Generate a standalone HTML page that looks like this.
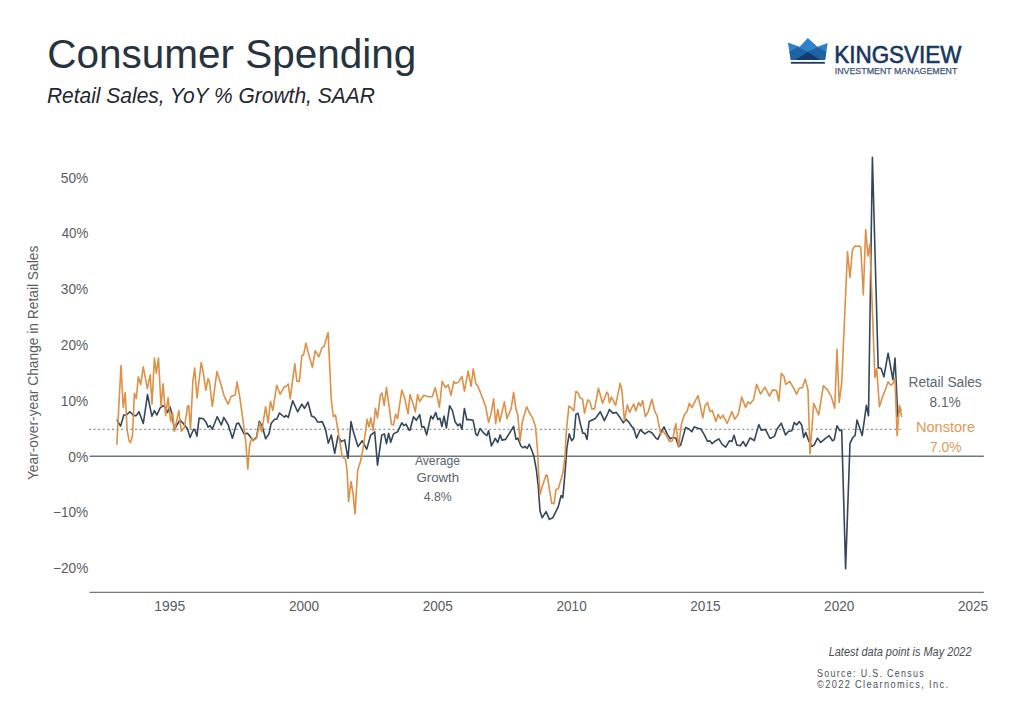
<!DOCTYPE html>
<html><head><meta charset="utf-8">
<style>
html,body{margin:0;padding:0;background:#fff;width:1024px;height:721px;overflow:hidden}
svg{display:block}
text{font-family:"Liberation Sans",sans-serif}
</style></head>
<body>
<svg width="1024" height="721" viewBox="0 0 1024 721">
<rect width="1024" height="721" fill="#fff"/>
<line x1="89.5" y1="592.3" x2="983.8" y2="592.3" stroke="#75797c" stroke-width="1.3"/>
<line x1="89.5" y1="456.3" x2="983.8" y2="456.3" stroke="#6f797b" stroke-width="1.5"/>
<line x1="89" y1="429.4" x2="902" y2="429.4" stroke="#8f959a" stroke-width="1.3" stroke-dasharray="2,2.6"/>
<polyline fill="none" stroke="#34475a" stroke-width="1.6" stroke-linejoin="round" points="116.8,419.6 120.6,426.1 123.8,415 126.5,415 129.8,411.7 133.7,415.6 136.3,415.6 139,411.7 143.3,423.5 147.5,394.5 151.9,416.3 154.4,410.6 156.9,415 160,408.1 163.1,405.6 165.6,407.5 167.5,412.5 170,406.9 171.9,413.8 174.4,430 176.9,425 180,420 182.5,422.5 187.5,428.8 188,430.6 190.1,437.5 193.6,429.2 194.9,429.9 197,436.1 199.1,418.1 203.3,418.8 206.1,422.2 208.1,427.1 210.2,425.7 212.3,429.2 217.2,416.7 221.3,425 223.8,417.4 228.3,425 232.4,438.2 236.6,423.6 237.9,423.5 238.5,422.8 241.3,428.3 244,433.9 247.5,433.2 250.3,436.7 253.1,440.1 256.5,437.4 259.3,421.4 262.1,425.6 265.6,438.8 269,433.9 271.1,423.5 274.6,419.3 276.7,419.3 279.4,413.1 283.6,416.5 284.7,417.1 285.8,415.3 288.3,417.4 292.7,400.7 297.6,411.8 301.8,404.2 304.5,408.3 308,402.1 311.5,416 314.7,417.4 317.7,422.2 322.2,421.6 325.5,429.1 328.3,443.3 331.3,435 334.7,453.3 338,435.8 341.3,441.6 344.7,439.9 348,458.3 351,421.6 353.8,433.3 358,446.6 362.2,440.8 366.3,448.3 366.7,449.2 370.6,435.3 374.7,431.8 377.5,465.1 381.7,435.3 384.4,433.9 386.5,443.6 388.6,433.2 390.7,442.2 393.5,433.9 397.6,431.8 401.8,422.8 403.9,425.6 406,424.2 409.2,430.4 410,430 413.5,416.8 416.3,420.3 419.7,414.7 421.8,427.2 423.9,426.5 426.7,434.9 430.8,416.1 432.9,418.9 435.7,412.6 437.8,419.6 439.9,418.2 441.9,426.5 444,416.1 446.4,427.9 449.6,405.7 452.4,410.6 455.1,421.7 457.9,425.8 458.7,424.9 459.9,423.8 461.9,429.3 464.4,408.5 466.8,419.6 469.6,419.6 473.1,420.3 475.8,434.2 477.5,435.6 480,428.6 483.5,432.8 486.9,435.6 488.6,430.7 491.4,446 495.3,438.3 497.8,442.5 500.1,434.9 502.1,440.1 505.6,439.4 509,433.9 513.6,426.3 516,439.4 517.8,438.1 520.8,445.7 522.9,447.8 525,446.4 527.1,448.5 529.2,444.3 531.9,450.6 534,456.8 536.4,470 538.3,486.6 540,511 542.2,517.7 546.1,511.6 549.4,519.4 552.8,517.7 555.6,512.1 558.3,506.6 561.1,495.5 562.8,497.7 565,473.3 566.9,447.8 569.2,433.9 571.7,440.8 573.8,438.1 575.9,414.4 578,413.1 580.8,425.6 582.8,433.2 584.9,433.2 587,439.4 589.1,421.4 595.3,418.6 600.2,411.7 604.4,420.7 608,413 609.4,409.6 612.9,413.1 616.3,412.4 619.8,417.2 623.3,422.8 626.1,419.3 628.8,422.1 631.6,426.3 633.7,428.3 636.5,438.1 640.2,429.7 644.8,433.9 649,431.1 652.4,433.2 655.9,438.1 657.8,439.4 661.3,431.8 664,426.9 667.5,434.6 670.3,438.8 673.1,437.4 675.8,438.1 678.6,446.4 680.7,445 685.6,427.6 689,429 691.8,431.8 694.2,426.9 698.1,428.3 700.8,429 702.1,431.1 704.2,434.6 707.6,441.5 709.7,440.8 712.2,443.6 714.6,441.5 718.8,438.8 722.2,444.3 725.7,447.1 729.4,440.8 731.9,441.5 734,435.3 736.8,445 740.3,445.7 743.1,441.5 745.8,446.4 750,438.1 750.5,438 751.1,438.5 754.3,440.6 758.8,424.6 761.2,430.1 765.4,429.4 770,438.5 774.4,436.4 777.2,428.8 781.3,423.2 785.5,435 788.3,431.5 791.8,430.8 794.3,422.5 796.7,424.9 799.2,421.6 801.7,424.9 803.7,437.4 805.8,432.4 808.7,440.7 811.7,446.5 814.2,444.9 817.5,438.2 820.8,442.4 825.8,438.2 829.2,435.7 832.5,440.7 834.2,439.9 837,425.7 839.7,430.7 841.7,429.9 845.6,568.7 850,443.3 852.9,437.3 855.1,435.5 857,420 862.2,435.5 866.4,405.4 868.5,415.8 872.4,157.3 878.2,368 879,367.8 881.1,368.5 883.9,376.8 888.1,353.2 892.9,379.6 895,358.1 897.8,416.4 899.9,408.1 900.9,411"/>
<polyline fill="none" stroke="#de9047" stroke-width="1.6" stroke-linejoin="round" points="116.8,444.6 121,365.5 123.2,407.7 125.2,392.5 127.1,430.1 129.1,440.6 130.4,442.6 132.4,436.7 134.4,393.2 136.3,398.5 138.3,376.7 140.7,384.6 143.3,366.9 147.3,388.6 150.2,374.8 152,404 154.4,358.1 156.3,373.1 158.5,358.1 161,406.3 163.1,383.8 165.6,415.6 168.1,397.5 170.6,421.3 172.5,412.5 174.4,431.3 178.8,410.6 181.3,431.3 184.4,427.5 187.5,406.3 188.7,405.6 190.5,429.2 192.9,380.6 194.7,368.1 197,397.9 201.2,362.5 203.3,372.9 205.8,390.3 208.1,378.5 209.5,381.9 212.3,406.3 216.9,371.5 220.6,383.3 224.1,395.8 228,404.2 231.1,396.5 235.2,395.1 237.1,381.8 239.9,397.8 243.3,422.8 245.8,442.2 247.8,469.3 249.6,445 251.7,438.1 253.1,440.8 256.5,438.1 259.7,422.8 261.7,431.8 265.6,406.8 268.1,422.8 270.4,401.3 272.8,410.3 276.7,385.3 280.1,394.3 284.3,386.7 284.7,386.6 285.8,386.8 288.3,384 290.2,398.6 294.8,363.9 296.9,381.3 299.4,381.3 301.8,355.6 303.6,354.9 305.9,343.1 308.7,354.2 312.4,367.4 315.2,350.7 318.8,356.9 321.9,347.9 324,346.5 328.1,332.6 331.3,400 333.3,416.6 335.5,415 338.8,435.8 342.2,456.6 345.5,459.1 347.2,471.6 348.5,501.5 351,481.6 353,493.2 355,514 357.7,469.9 360.5,461.6 363.8,444.1 367.1,419.3 368.9,426.9 370.8,417.9 373.1,430.4 375.4,408.2 377.5,417.9 380.3,395.7 381.9,392.9 384.2,405.4 386.5,387.4 388.6,402.6 391.4,424.2 393.5,424.9 395.6,414.4 397.6,418.6 401.8,390.1 404.6,397.8 408.1,413.8 410,394.6 412.8,402.9 415.3,411.9 417.6,394.6 419.7,401.5 423.9,395.3 428.1,396.7 432.2,396.7 435.3,387.6 439.4,407.1 442.2,381.4 445.4,387.6 448.2,384.9 451,395.3 453.8,381.4 455.5,383.5 458.5,382.1 461.9,376.5 464.4,391.1 468.2,371 471,386.3 473.3,368.9 475.8,383.5 477.9,386.3 482.1,396.7 485.6,406.4 488.6,422.4 491.1,413.3 493.6,398.8 495.6,423.8 497.8,409.2 499.7,421.7 504.4,401.9 506.9,418.6 511.1,408.9 513.6,392.2 516,409.6 517.8,415.1 520.1,440.8 522.2,422.1 526.7,406.8 529.9,413.8 532.6,417.9 535.4,426.3 537.5,449.2 538.3,467.8 540,494.4 542.2,486.6 546.1,475 547.2,475.5 551.7,503.3 553.9,503.8 556.1,489.4 558.3,488.8 562.8,473.3 565,456.6 566.2,432.5 568.9,406.1 571,407.5 573.8,411 575.9,391.5 578,392.9 580.1,397.8 582.6,399.2 584.5,413.1 587.7,399.9 589.8,401.3 591.9,408.9 594.6,408.9 598.4,388.1 602.6,403.3 606.7,392.2 608,393.6 609.4,402.6 611.5,397.1 615.6,405.4 620.2,383.2 621.9,390.1 624.4,420.7 627.4,404.7 629.5,412.4 633.7,404 635.8,411 638.6,402.6 640.6,406.1 642.7,400.6 645.2,416.5 648.3,411.7 651.8,399.2 654.9,411.7 657.1,415.8 660.6,433.9 663.3,431.1 666.1,435.3 669.6,441.5 672.4,440.8 675.8,423.5 678.6,447.1 681.4,424.2 684.2,415.1 686.9,411.7 689.4,403.3 691.8,407.5 698.1,395.7 702.8,417.9 704.9,406.1 707.6,402.6 710,411.7 712.2,410.3 716,421.4 718.1,414.4 720.6,418.6 722.9,415.1 727.1,423.5 731.9,411.7 734.7,419.3 738.2,414.4 741.7,397.1 745.6,407.5 747.9,401.9 750.1,403.8 753.6,399.6 756.6,384.3 760.5,394 764.9,387.1 769.5,396.1 772.7,389.9 776.5,390.6 778.8,401 781.3,373.2 783.8,376 785.8,384.3 789.7,381.5 793.1,387.1 796.7,394.1 799.2,388.3 802.5,387.4 805.3,379.1 808,389.9 810,454 813.7,403.2 818.7,414.9 823.3,385.8 827.5,389.9 831.3,396.6 834.7,408.2 837,349.2 839.2,402.4 841.7,383.3 847.5,251.6 850,277.4 852.4,250 854.9,245.8 857.4,246.6 859.1,245.8 860.8,247.4 863.3,294.9 865.7,229.6 867.9,256 869.9,244.5 874.9,377.5 876.7,368.5 879.4,406.7 882.5,396.9 885.3,390 888.1,381.7 890.6,385.1 892.9,383.8 895,378.2 897.1,435.8 899.4,405.3 901.7,417.1"/>
<g id="logo">
<polygon points="787.9,42.6 799.6,46.7 807.8,37.9 817.5,46.7 827.7,42.9 825.1,59.9 790.8,59.9" fill="#2f82c9"/>
<polygon points="789.4,51.7 797.6,47 807.8,51.7 818.1,47 826.3,51.7 825.1,59.9 790.8,59.9" fill="#1f63a3"/>
<polygon points="795.2,59.9 807.8,52 820.4,59.9" fill="#153b6b"/>
<rect x="790.8" y="61.9" width="34" height="1.8" fill="#1d3a63"/>
</g>
<text id="title" x="47.20" y="67.70" font-size="41.5" fill="#27333e" textLength="369.20" lengthAdjust="spacingAndGlyphs">Consumer Spending</text>
<text id="sub" x="46.90" y="103.40" font-size="22" fill="#1f2830" font-style="italic" textLength="328.00" lengthAdjust="spacingAndGlyphs">Retail Sales, YoY % Growth, SAAR</text>
<text id="kv" x="834.20" y="62.70" font-size="23.4" fill="#15375f" stroke="#15375f" stroke-width="0.6" textLength="127.30" lengthAdjust="spacingAndGlyphs">KINGSVIEW</text>
<text id="im" x="834.70" y="73.50" font-size="9.9" fill="#3b5479" stroke="#3b5479" stroke-width="0.25" textLength="122.70" lengthAdjust="spacingAndGlyphs">INVESTMENT MANAGEMENT</text>
<text id="avg1" x="414.90" y="464.90" font-size="12.2" fill="#596571" textLength="45.10" lengthAdjust="spacingAndGlyphs">Average</text>
<text id="avg2" x="416.40" y="482.40" font-size="12.2" fill="#596571" textLength="42.80" lengthAdjust="spacingAndGlyphs">Growth</text>
<text id="avg3" x="423.70" y="500.80" font-size="12.2" fill="#596571" textLength="27.90" lengthAdjust="spacingAndGlyphs">4.8%</text>
<text id="rs1" x="908.50" y="387.10" font-size="14" fill="#5b6772" textLength="73.20" lengthAdjust="spacingAndGlyphs">Retail Sales</text>
<text id="rs2" x="929.50" y="407.30" font-size="14" fill="#5b6772" textLength="31.10" lengthAdjust="spacingAndGlyphs">8.1%</text>
<text id="ns1" x="915.90" y="432.10" font-size="14" fill="#e19a55" textLength="59.20" lengthAdjust="spacingAndGlyphs">Nonstore</text>
<text id="ns2" x="930.00" y="451.90" font-size="14" fill="#e19a55" textLength="31.40" lengthAdjust="spacingAndGlyphs">7.0%</text>
<text id="latest" x="828.70" y="655.80" font-size="12" fill="#474d53" font-style="italic" textLength="142.80" lengthAdjust="spacingAndGlyphs">Latest data point is May 2022</text>
<text id="src" x="817.10" y="676.90" font-size="10.8" fill="#4b5157" letter-spacing="1.6" textLength="107.90" lengthAdjust="spacingAndGlyphs">Source: U.S. Census</text>
<text id="copy" x="817.10" y="688.10" font-size="10.8" fill="#4b5157" letter-spacing="1.6" textLength="132.30" lengthAdjust="spacingAndGlyphs">©2022 Clearnomics, Inc.</text>
<text id="y0" x="60.85" y="182.70" font-size="14" fill="#585d62" textLength="27.40" lengthAdjust="spacingAndGlyphs">50%</text>
<text id="y1" x="61.65" y="238.47" font-size="14" fill="#585d62" textLength="26.60" lengthAdjust="spacingAndGlyphs">40%</text>
<text id="y2" x="60.85" y="294.24" font-size="14" fill="#585d62" textLength="27.40" lengthAdjust="spacingAndGlyphs">30%</text>
<text id="y3" x="60.85" y="350.01" font-size="14" fill="#585d62" textLength="27.40" lengthAdjust="spacingAndGlyphs">20%</text>
<text id="y4" x="60.85" y="405.78" font-size="14" fill="#585d62" textLength="27.40" lengthAdjust="spacingAndGlyphs">10%</text>
<text id="y5" x="68.25" y="461.55" font-size="14" fill="#585d62" textLength="20.00" lengthAdjust="spacingAndGlyphs">0%</text>
<text id="y6" x="52.95" y="517.32" font-size="14" fill="#585d62" textLength="35.30" lengthAdjust="spacingAndGlyphs">−10%</text>
<text id="y7" x="53.05" y="573.09" font-size="14" fill="#585d62" textLength="35.20" lengthAdjust="spacingAndGlyphs">−20%</text>
<text id="x0" x="154.30" y="610.85" font-size="14" fill="#585d62" textLength="31.00" lengthAdjust="spacingAndGlyphs">1995</text>
<text id="x1" x="288.90" y="610.85" font-size="14" fill="#585d62" textLength="30.20" lengthAdjust="spacingAndGlyphs">2000</text>
<text id="x2" x="422.70" y="610.85" font-size="14" fill="#585d62" textLength="30.20" lengthAdjust="spacingAndGlyphs">2005</text>
<text id="x3" x="556.50" y="610.85" font-size="14" fill="#585d62" textLength="30.20" lengthAdjust="spacingAndGlyphs">2010</text>
<text id="x4" x="690.30" y="610.85" font-size="14" fill="#585d62" textLength="30.20" lengthAdjust="spacingAndGlyphs">2015</text>
<text id="x5" x="824.10" y="610.85" font-size="14" fill="#585d62" textLength="30.20" lengthAdjust="spacingAndGlyphs">2020</text>
<text id="x6" x="957.90" y="610.85" font-size="14" fill="#585d62" textLength="30.20" lengthAdjust="spacingAndGlyphs">2025</text>
<text id="ytitle" transform="translate(37.9,362.90) rotate(-90)" font-size="14" fill="#585d62" text-anchor="middle" textLength="234.35" lengthAdjust="spacingAndGlyphs">Year-over-year Change in Retail Sales</text>
</svg>
</body></html>
